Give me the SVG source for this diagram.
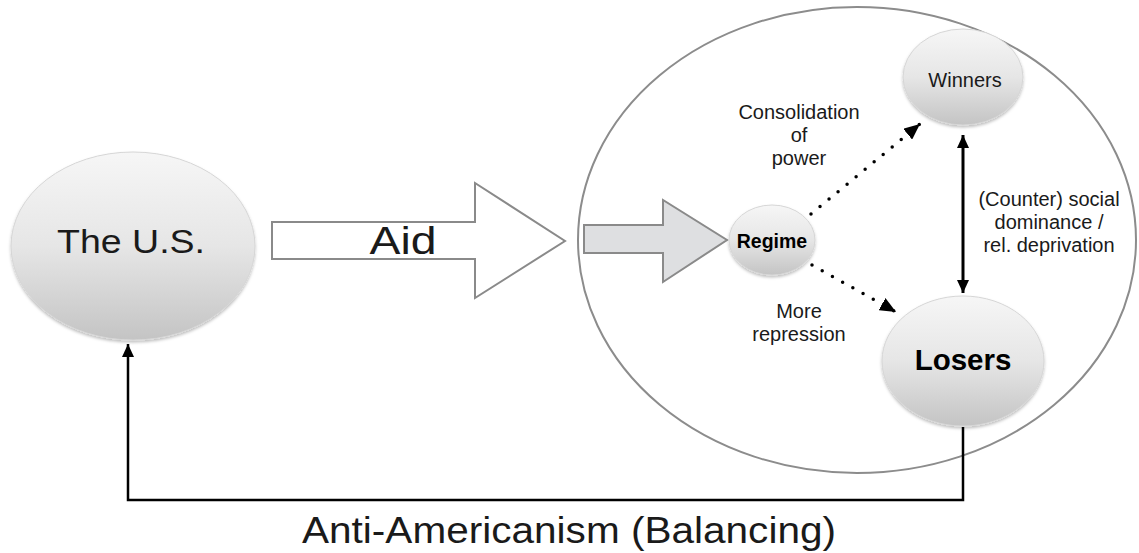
<svg xmlns="http://www.w3.org/2000/svg" width="1139" height="553" viewBox="0 0 1139 553">
<style>
  .node { fill: url(#nodeGrad); stroke: #d6d6d6; stroke-width: 1; filter: url(#shadow); }
  .light { font-family: "Liberation Sans", Arial, sans-serif; fill: #1a1a1a; }
  .lbl { font-family: "Liberation Sans", Arial, sans-serif; font-size: 20px; fill: #1a1a1a; text-anchor: middle; }
  .bold { font-family: "Liberation Sans", Arial, sans-serif; font-weight: bold; fill: #000; text-anchor: middle; }
  .dots { stroke: #000; stroke-width: 3.5; stroke-linecap: round; stroke-dasharray: 0 11.7; fill: none; }
  .solid { stroke: #000; stroke-width: 3; fill: none; }
  .fb { stroke: #000; stroke-width: 2.5; fill: none; }
  .bigarrow { stroke: #8a8a8a; stroke-width: 2; stroke-linejoin: miter; }
</style>
<defs>
  <linearGradient id="nodeGrad" x1="0" y1="0" x2="0" y2="1">
    <stop offset="0" stop-color="#f6f6f6"/>
    <stop offset="0.5" stop-color="#e6e6e6"/>
    <stop offset="1" stop-color="#c4c4c4"/>
  </linearGradient>
  <filter id="shadow" x="-20%" y="-20%" width="140%" height="150%">
    <feDropShadow dx="0" dy="2" stdDeviation="1.5" flood-color="#000" flood-opacity="0.25"/>
  </filter>
  <marker id="head" markerUnits="userSpaceOnUse" markerWidth="16" markerHeight="14" viewBox="0 0 16 14" refX="16" refY="7" orient="auto-start-reverse">
    <path d="M0,0 L16,7 L0,14 z" fill="#000"/>
  </marker>
  <marker id="headSmall" markerUnits="userSpaceOnUse" markerWidth="13" markerHeight="12" viewBox="0 0 13 12" refX="13" refY="6" orient="auto-start-reverse">
    <path d="M0,0 L13,6 L0,12 z" fill="#000"/>
  </marker>
</defs>

<g id="country-ellipse">
  <ellipse cx="857" cy="240" rx="279" ry="233" fill="none" stroke="#8c8c8c" stroke-width="2"/>
</g>

<g id="aid-arrow">
  <path class="bigarrow" fill="#ffffff" d="M272,222 L475,222 L475,183 L565,241 L475,298 L475,259 L272,259 Z"/>
  <text class="light" x="403" y="254" font-size="39" text-anchor="middle" textLength="67" lengthAdjust="spacingAndGlyphs">Aid</text>
</g>

<g id="inner-arrow">
  <path class="bigarrow" fill="#dedfe1" d="M584,225 L663,225 L663,200 L727,240 L663,282 L663,253 L584,253 Z"/>
</g>

<g id="node-us">
  <ellipse class="node" cx="133" cy="246" rx="122" ry="94"/>
  <text class="light" x="131" y="253" font-size="33" text-anchor="middle" textLength="148" lengthAdjust="spacingAndGlyphs">The U.S.</text>
</g>

<g id="node-regime">
  <ellipse class="node" cx="772" cy="240" rx="43" ry="35"/>
  <text class="bold" x="772" y="248" font-size="19.5">Regime</text>
</g>

<g id="node-winners">
  <ellipse class="node" cx="963" cy="77" rx="60" ry="48"/>
  <text class="lbl" x="965" y="87" font-size="22.5">Winners</text>
</g>

<g id="node-losers">
  <ellipse class="node" cx="963" cy="361" rx="81" ry="65"/>
  <text class="bold" x="963" y="370" font-size="29.5">Losers</text>
</g>

<g id="connectors">
  <line class="dots" x1="811" y1="214" x2="920" y2="124" marker-end="url(#head)"/>
  <line class="dots" x1="812" y1="265" x2="896" y2="312" marker-end="url(#head)"/>
  <line class="solid" x1="963" y1="135" x2="963" y2="293" marker-start="url(#headSmall)" marker-end="url(#headSmall)"/>
  <polyline class="fb" points="963,427 963,500 128,500 128,344" marker-end="url(#headSmall)"/>
</g>

<g id="labels">
  <text class="lbl" x="799" y="119">Consolidation</text>
  <text class="lbl" x="799" y="142">of</text>
  <text class="lbl" x="799" y="165">power</text>
  <text class="lbl" x="799" y="318">More</text>
  <text class="lbl" x="799" y="341">repression</text>
  <text class="lbl" x="1049" y="206">(Counter) social</text>
  <text class="lbl" x="1049" y="229">dominance /</text>
  <text class="lbl" x="1049" y="252">rel. deprivation</text>
  <text class="light" x="569" y="543" font-size="36" text-anchor="middle" textLength="534" lengthAdjust="spacingAndGlyphs">Anti-Americanism (Balancing)</text>
</g>
</svg>
